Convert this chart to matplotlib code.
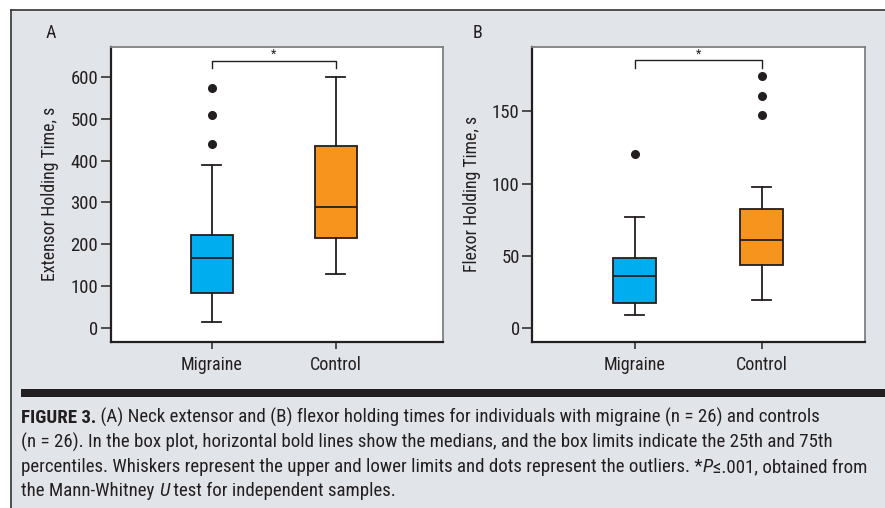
import matplotlib
matplotlib.use('Agg')
import matplotlib.pyplot as plt
from matplotlib.patches import Rectangle
from matplotlib.transforms import IdentityTransform

# ---- data ----
groups = ['Migraine', 'Control']

ext_whislo = [14, 129]
ext_q1 = [84, 215]
ext_med = [166, 290]
ext_q3 = [223, 435]
ext_whishi = [390, 600]
ext_fliers = [[440, 508, 574], []]

flx_whislo = [8.6, 19.2]
flx_q1 = [17.3, 43.5]
flx_med = [35.6, 61.0]
flx_q3 = [48.3, 82.5]
flx_whishi = [77, 97.6]
flx_fliers = [[120.5], [147.3, 160.9, 174.5]]

ext_yticks = [0, 100, 200, 300, 400, 500, 600]
flx_yticks = [0, 50, 100, 150]

box_cols = ['#00aeef', '#f7941d']
font = ['Roboto Condensed', 'Archivo Narrow', 'Liberation Sans Narrow', 'DejaVu Sans']
txt_col = '#231f20'
bg_col = '#e1e4e8'

plt.rcParams['font.family'] = font

W, H = 885, 508
fig = plt.figure(figsize=(W / 100, H / 100), dpi=100)
fig.patch.set_facecolor('white')

# gray panel with dark top/left border
fig.patches.append(Rectangle((11 / W, 0), 1, (H - 10) / H, transform=fig.transFigure,
                             facecolor=bg_col, edgecolor='none', zorder=-2))
fig.lines.append(plt.Line2D([11 / W, 1], [(H - 10) / H] * 2, transform=fig.transFigure, color='#333333', lw=1.2, zorder=-1))
fig.lines.append(plt.Line2D([11 / W] * 2, [0, (H - 10) / H], transform=fig.transFigure, color='#333333', lw=1.2, zorder=-1))
# black separator bar
fig.patches.append(Rectangle((21 / W, (H - 397) / H), 1, 8 / H, transform=fig.transFigure,
                             facecolor='#231f20', edgecolor='none', zorder=-1))


def make_stats(whislo, q1, med, q3, whishi, fliers):
    stats = []
    for i in range(len(groups)):
        stats.append(dict(label=groups[i], whislo=whislo[i], q1=q1[i], med=med[i],
                          q3=q3[i], whishi=whishi[i], fliers=fliers[i]))
    return stats


def draw_panel(rect, stats, ylim, xlim, yticks, ylabel, bracket, letter, letter_x):
    ax = fig.add_axes(rect)
    ax.set_facecolor('white')
    res = ax.bxp(stats, positions=[1, 2], widths=0.34, patch_artist=True,
                 capwidths=0.15,
                 boxprops=dict(edgecolor='#231f20', linewidth=1.3),
                 medianprops=dict(color='#231f20', linewidth=1.3),
                 whiskerprops=dict(color='#231f20', linewidth=1.3),
                 capprops=dict(color='#231f20', linewidth=1.3),
                 flierprops=dict(marker='o', markerfacecolor='#231f20', markeredgecolor='#231f20',
                                 markersize=5.5, linestyle='none'))
    for patch, col in zip(res['boxes'], box_cols):
        patch.set_facecolor(col)
    ax.set_xlim(xlim)
    ax.set_ylim(ylim)
    ax.set_yticks(yticks)
    ax.set_xticks([1, 2])
    ax.set_xticklabels(groups)
    ax.tick_params(axis='y', length=7, width=1.2, colors='#333333', labelsize=13.5,
                   labelcolor=txt_col, pad=2)
    ax.tick_params(axis='x', length=5, width=1.2, colors='#333333', labelsize=13,
                   labelcolor=txt_col, pad=5)
    for s in ['left', 'bottom']:
        ax.spines[s].set_color('#231f20')
        ax.spines[s].set_linewidth(1.6)
    for s in ['top', 'right']:
        ax.spines[s].set_color('#808080')
        ax.spines[s].set_linewidth(1.3)
    ax.set_ylabel(ylabel, fontsize=12.8, color=txt_col, labelpad=8)
    # significance bracket
    y_top, y_leg = bracket
    ax.plot([1, 1, 2, 2], [y_leg, y_top, y_top, y_leg], color='#231f20', lw=1.0)
    ax.text(1.5, y_top, '*', ha='center', va='bottom', fontsize=9, color=txt_col)
    fig.text(letter_x / W, (H - 33) / H, letter, fontsize=13, color=txt_col, ha='center', va='center')
    return ax


draw_panel([110.7 / W, (H - 341.7) / H, 332 / W, 295 / H],
           make_stats(ext_whislo, ext_q1, ext_med, ext_q3, ext_whishi, ext_fliers),
           (-33, 672), (0.185, 2.863), ext_yticks, 'Extensor Holding Time, s',
           (639, 622), 'A', 51)

draw_panel([532.3 / W, (H - 341.7) / H, 332.4 / W, 295 / H],
           make_stats(flx_whislo, flx_q1, flx_med, flx_q3, flx_whishi, flx_fliers),
           (-9.7, 194.9), (0.194, 2.811), flx_yticks, 'Flexor Holding Time, s',
           (185.4, 180.3), 'B', 478)

# ---- caption, drawn as runs so bold / italic parts sit inline ----
caption = [
    [('FIGURE 3.', 'bold', 'normal'),
     (' (A) Neck extensor and (B) flexor holding times for individuals with migraine (n = 26) and controls', 'normal', 'normal')],
    [('(n = 26). In the box plot, horizontal bold lines show the medians, and the box limits indicate the 25th and 75th', 'normal', 'normal')],
    [('percentiles. Whiskers represent the upper and lower limits and dots represent the outliers. *', 'normal', 'normal'),
     ('P', 'normal', 'italic'),
     ('\u2264.001, obtained from', 'normal', 'normal')],
    [('the Mann-Whitney ', 'normal', 'normal'),
     ('U', 'normal', 'italic'),
     (' test for independent samples.', 'normal', 'normal')],
]
baselines = [423, 447.5, 472, 496.5]

renderer = fig.canvas.get_renderer()
for runs, yb in zip(caption, baselines):
    x = 21
    for s, weight, style in runs:
        t = fig.text(x, H - yb, s, transform=IdentityTransform(), fontsize=13.6,
                     fontweight=weight, fontstyle=style, color=txt_col, va='baseline', ha='left')
        x = t.get_window_extent(renderer).x1

fig.savefig('out.png', dpi=100)
